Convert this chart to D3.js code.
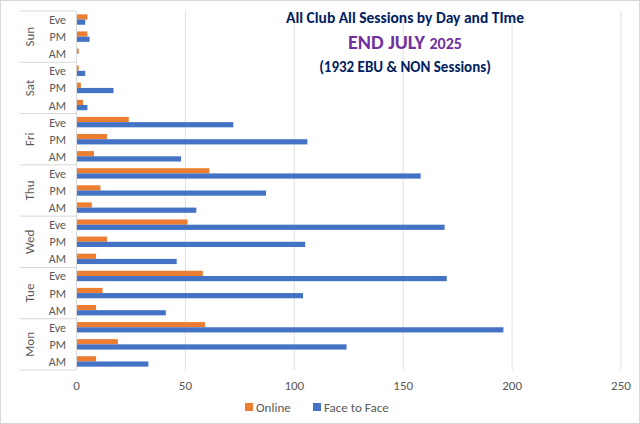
<!DOCTYPE html>
<html><head><meta charset="utf-8">
<script src="https://cdn.jsdelivr.net/npm/d3@7"></script>
<style>body{margin:0;background:#fff}text{font-family:Calibri,Carlito,"Open Sans",sans-serif}</style>
</head><body><svg id="c" width="640" height="424"></svg>
<script>
const days = ["Mon","Tue","Wed","Thu","Fri","Sat","Sun"];
const slots = ["AM","PM","Eve"];
const online = [9,19,59, 9,12,58, 9,14,51, 7,11,61, 8,14,24, 3,2,1, 1,5,5];
const face = [33,124,196, 41,104,170, 46,105,169, 55,87,158, 48,106,72, 5,17,4, 0,6,4];
const xTicks = [0,50,100,150,200,250];

const svg = d3.select("#c");
svg.append("rect").attr("x",0.5).attr("y",0.5).attr("width",639).attr("height",423).attr("fill","#fff").attr("stroke","#d9d9d9");
const L=76.5,R=621,T=11,B=370;
const x = d3.scaleLinear().domain([0,250]).range([L,R]);
const cats = d3.range(21);
const y = d3.scaleBand().domain(cats).range([B,T]);
const g = svg.append("g");
g.selectAll(".grid").data(xTicks).join("line").attr("x1",d=>x(d)).attr("x2",d=>x(d)).attr("y1",T).attr("y2",B).attr("stroke","#e0e0e0");
const bh = 5.2;
g.selectAll(".on").data(online).join("rect").attr("x",x(0)).attr("y",(d,i)=>y(i)+y.bandwidth()/2-bh).attr("width",d=>x(d)-x(0)).attr("height",bh).attr("fill","#ED7D31");
g.selectAll(".ff").data(face).join("rect").attr("x",x(0)).attr("y",(d,i)=>y(i)+y.bandwidth()/2).attr("width",d=>x(d)-x(0)).attr("height",bh).attr("fill","#4472C4");
// axis labels
g.selectAll(".xt").data(xTicks).join("text").attr("x",d=>x(d)).attr("y",390).attr("text-anchor","middle").attr("font-size",13).attr("fill","#595959").text(d=>d);
// category axis
g.append("line").attr("x1",L).attr("x2",L).attr("y1",T).attr("y2",B).attr("stroke","#d9d9d9");
g.selectAll(".sl").data(cats).join("text").attr("x",66).attr("y",i=>y(i)+y.bandwidth()/2+4.5).attr("text-anchor","end").attr("font-size",12).attr("fill","#595959").text(i=>slots[i%3]);
const dh = y.bandwidth()*3;
g.selectAll(".sep").data(d3.range(8)).join("line").attr("x1",20).attr("x2",L).attr("y1",k=>B-k*dh).attr("y2",k=>B-k*dh).attr("stroke","#d9d9d9");
g.selectAll(".dl").data(days).join("text").attr("transform",(d,k)=>`translate(34,${B-k*dh-dh/2}) rotate(-90)`).attr("text-anchor","middle").attr("font-size",13).attr("fill","#595959").text(d=>d);
// titles
svg.append("text").attr("x",405).attr("y",23).attr("text-anchor","middle").attr("font-size",15.5).attr("font-weight","bold").attr("fill","#002060").text("All Club All Sessions by Day and TIme");
const t2 = svg.append("text").attr("x",405).attr("y",49).attr("text-anchor","middle").attr("font-weight","bold").attr("fill","#7030A0");
t2.append("tspan").attr("font-size",20).text("END JULY ");
t2.append("tspan").attr("font-size",16).text("2025");
svg.append("text").attr("x",405).attr("y",72).attr("text-anchor","middle").attr("font-size",15).attr("font-weight","bold").attr("fill","#002060").text("(1932 EBU & NON Sessions)");
// legend
const lg = svg.append("g");
lg.append("rect").attr("x",245).attr("y",403).attr("width",8).attr("height",8).attr("fill","#ED7D31");
lg.append("text").attr("x",256).attr("y",412).attr("font-size",13).attr("fill","#595959").text("Online");
lg.append("rect").attr("x",313).attr("y",403).attr("width",8).attr("height",8).attr("fill","#4472C4");
lg.append("text").attr("x",324).attr("y",412).attr("font-size",13).attr("fill","#595959").text("Face to Face");
</script></body></html>
